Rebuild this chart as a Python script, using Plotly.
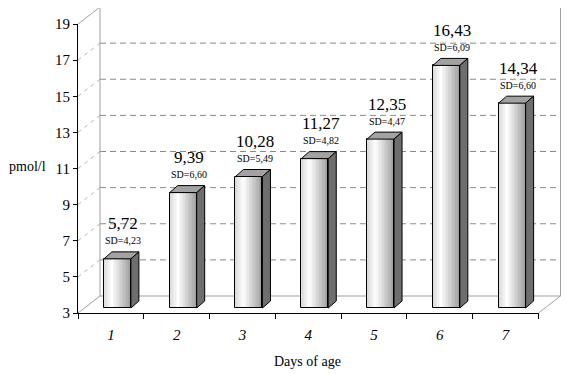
import plotly.graph_objects as go

# ---------------- data ----------------
categories = ['1', '2', '3', '4', '5', '6', '7']
means = [5.72, 9.39, 10.28, 11.27, 12.35, 16.43, 14.34]
sds = [4.23, 6.60, 5.49, 4.82, 4.47, 6.09, 6.60]
y_ticks = [3, 5, 7, 9, 11, 13, 15, 17, 19]
y_title = 'pmol/l'
x_title = 'Days of age'

# ---------------- geometry (pixels -> data units) ----------------
PAGE = 8                       # default body margin of the html page
W, H = 569 - PAGE, 374 - PAGE  # figure size so that it fills the window
X0, X1 = 78 - PAGE, 538.5 - PAGE   # front x-axis ends (px, figure coords)
Y0, Y1 = 313 - PAGE, 24 - PAGE     # front y-axis: value 3 and value 19
YMIN, YMAX = y_ticks[0], y_ticks[-1]
n_cat = len(categories)
sx = (X1 - X0) / n_cat
sy = (Y0 - Y1) / (YMAX - YMIN)


def ux(px):
    return px / sx


def uy(px):
    return px / sy


wall_dx, wall_dy = ux(22), uy(17)     # back-wall depth offset
face_dx, face_dy = ux(6.5), uy(5)     # bar front-face depth offset
bar_dx, bar_dy = ux(8), uy(7)         # bar depth
bar_w = ux(27)

x_rng = [0.5 - X0 / sx, 0.5 + (W - X0) / sx]
y_rng = [YMIN - (H - Y0) / sy, YMIN + Y0 / sy]

FONT = 'Liberation Serif, Times New Roman, serif'
FRAME = '#a0a0a0'
GRID = '#8a8a8a'

pos = [i + 1 for i in range(n_cat)]
xl_left, xl_right = 0.5, n_cat + 0.5

shapes = []


def line(x0, y0, x1, y1, color, dash='solid', width=1):
    shapes.append(dict(type='line', xref='x', yref='y', x0=x0, y0=y0, x1=x1, y1=y1,
                       line=dict(color=color, width=width, dash=dash), layer='below'))


# back wall dashed gridlines and left-wall diagonals
for k in y_ticks[1:-1]:
    line(xl_left + wall_dx, k + wall_dy, xl_right + wall_dx, k + wall_dy, GRID, '6px,4px')
    line(xl_left, k, xl_left + wall_dx, k + wall_dy, '#b8b8b8', '4px,4px')

# frame of the 3D box
line(xl_left + wall_dx, YMIN + wall_dy, xl_left + wall_dx, YMAX + wall_dy, FRAME)
line(xl_right + wall_dx, YMIN + wall_dy, xl_right + wall_dx, YMAX + wall_dy, FRAME)
line(xl_left + wall_dx, YMAX + wall_dy, xl_right + wall_dx, YMAX + wall_dy, FRAME)
line(xl_left + wall_dx, YMIN + wall_dy, xl_right + wall_dx, YMIN + wall_dy, FRAME)
line(xl_left, YMAX, xl_left + wall_dx, YMAX + wall_dy, FRAME)
line(xl_left, YMIN, xl_left + wall_dx, YMIN + wall_dy, FRAME)
line(xl_right, YMIN, xl_right + wall_dx, YMIN + wall_dy, FRAME)

# ---------------- bars ----------------
fig = go.Figure()

x_front = [p + face_dx for p in pos]
base = YMIN + face_dy
heights = [m - YMIN for m in means]


def hexmix(c1, c2, t):
    a = [int(c1[i:i + 2], 16) for i in (1, 3, 5)]
    b = [int(c2[i:i + 2], 16) for i in (1, 3, 5)]
    return '#%02x%02x%02x' % tuple(round(a[j] + (b[j] - a[j]) * t) for j in range(3))


stops = [(0.0, '#d8d8d8'), (0.3, '#ffffff'), (1.0, '#9c9c9c')]


def grad(t):
    for (t0, c0), (t1, c1) in zip(stops[:-1], stops[1:]):
        if t <= t1:
            return hexmix(c0, c1, (t - t0) / (t1 - t0))
    return stops[-1][1]


n_strip = 18
for j in range(n_strip):
    t = (j + 0.5) / n_strip
    fig.add_trace(go.Bar(
        x=x_front, y=heights, base=base,
        width=bar_w - j * bar_w / n_strip,
        offset=-bar_w / 2 + j * bar_w / n_strip,
        marker=dict(color=grad(t), line=dict(width=0)),
        hoverinfo='skip', showlegend=False))

# outline of front faces
fig.add_trace(go.Bar(
    x=x_front, y=heights, base=base, width=bar_w, offset=-bar_w / 2,
    marker=dict(color='rgba(0,0,0,0)', line=dict(color='black', width=1)),
    hoverinfo='skip', showlegend=False))

# top and side faces
for xf, m in zip(x_front, means):
    xl = xf - bar_w / 2
    xr = xf + bar_w / 2
    yt = m + face_dy
    top = (f'M {xl},{yt} L {xr},{yt} L {xr + bar_dx},{yt + bar_dy} '
           f'L {xl + bar_dx},{yt + bar_dy} Z')
    side = (f'M {xr},{base} L {xr},{yt} L {xr + bar_dx},{yt + bar_dy} '
            f'L {xr + bar_dx},{base + bar_dy} Z')
    shapes.append(dict(type='path', xref='x', yref='y', path=top, fillcolor='#a2a2a2',
                       line=dict(color='black', width=1), layer='above'))
    shapes.append(dict(type='path', xref='x', yref='y', path=side, fillcolor='#6e6e6e',
                       line=dict(color='black', width=1), layer='above'))

# invisible anchor trace for the front category axes
fig.add_trace(go.Scatter(x=categories, y=means, xaxis='x2', yaxis='y2', mode='markers',
                         marker=dict(opacity=0), hoverinfo='skip', showlegend=False))

# ---------------- labels ----------------
annotations = []
for xf, m, s in zip(x_front, means, sds):
    xa = xf + ux(6)
    annotations.append(dict(x=xa, y=m, xref='x', yref='y', yshift=40,
                            text=f'{m:.2f}'.replace('.', ','), showarrow=False,
                            font=dict(family=FONT, size=17, color='black'),
                            xanchor='center', yanchor='middle'))
    annotations.append(dict(x=xa, y=m, xref='x', yref='y', yshift=23,
                            text=f'SD={s:.2f}'.replace('.', ','), showarrow=False,
                            font=dict(family=FONT, size=10, color='black'),
                            xanchor='center', yanchor='middle'))

annotations.append(dict(x=0, y=1 - (167 - PAGE) / H, xref='paper', yref='paper',
                        text=y_title, showarrow=False,
                        font=dict(family=FONT, size=14, color='black'),
                        xanchor='left', yanchor='middle', borderpad=0))
annotations.append(dict(x=(307 - PAGE) / W, y=1 - (361 - PAGE) / H, xref='paper', yref='paper',
                        text=x_title, showarrow=False,
                        font=dict(family=FONT, size=14, color='black'),
                        xanchor='center', yanchor='middle'))

fig.update_layout(
    template='none',
    width=W, height=H, autosize=False,
    margin=dict(l=0, r=0, t=0, b=0, pad=0),
    paper_bgcolor='white', plot_bgcolor='rgba(0,0,0,0)',
    barmode='overlay', bargap=0,
    shapes=shapes, annotations=annotations,
    xaxis=dict(range=x_rng, domain=[0, 1], visible=False, fixedrange=True,
               automargin=False),
    yaxis=dict(range=y_rng, domain=[0, 1], visible=False, fixedrange=True,
               automargin=False),
    xaxis2=dict(type='category', categoryorder='array', categoryarray=categories,
                range=[-0.5, n_cat - 0.5], domain=[X0 / W, X1 / W], anchor='y2',
                tickson='boundaries', ticks='outside', ticklen=5, tickcolor='black',
                showline=True, linecolor='black', linewidth=1, showgrid=False,
                zeroline=False, automargin=False,
                tickfont=dict(family=FONT, size=15, color='black', style='italic'),
                ticklabelstandoff=8, fixedrange=True),
    yaxis2=dict(range=[YMIN, YMAX], domain=[(H - Y0) / H, (H - Y1) / H], anchor='x2',
                tickvals=y_ticks, ticks='outside', ticklen=4, tickcolor='black',
                showline=True, linecolor='black', linewidth=1, showgrid=False,
                zeroline=False, automargin=False,
                tickfont=dict(family=FONT, size=15, color='black'), fixedrange=True),
)

fig.write_html('out.html')
